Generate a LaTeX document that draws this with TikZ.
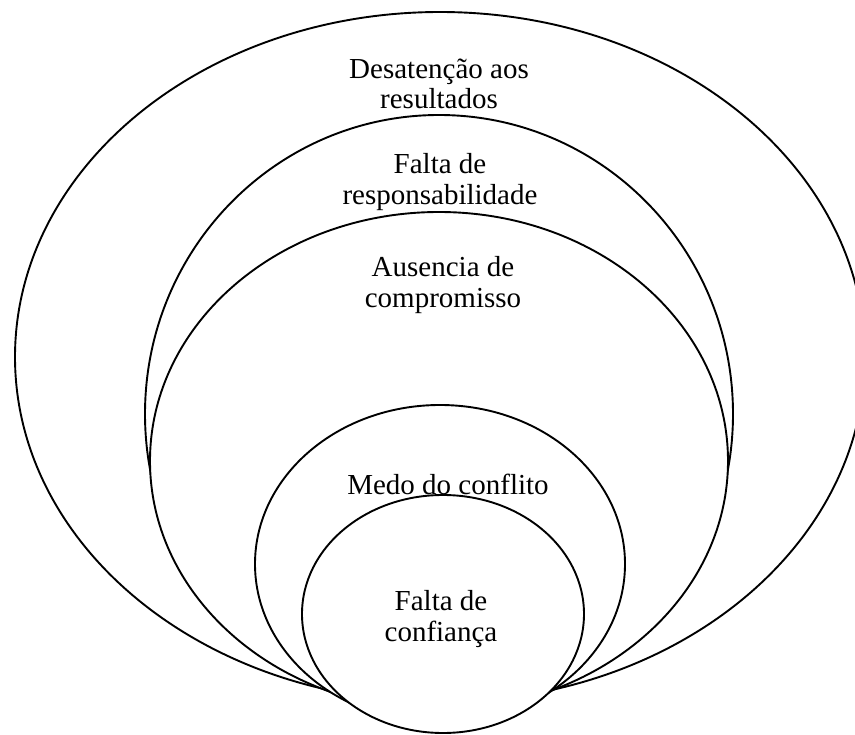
\documentclass[tikz,border=0pt]{standalone}
\usepackage{fontspec}
\setmainfont{Liberation Serif}
\begin{document}
\begin{tikzpicture}[x=1pt,y=-1pt,
  ring/.style={draw=black, fill=white, line width=1.9pt},
  lbl/.style={align=center, font=\fontsize{29}{30.5}\selectfont, inner sep=0pt}]
\useasboundingbox (0,0) rectangle (855,735);
\path[ring] (440,357) ellipse [x radius=425pt, y radius=345pt];
\path[ring] (439,414) ellipse [x radius=294pt, y radius=299pt];
\path[ring] (439,461) ellipse [x radius=289pt, y radius=249pt];
\path[ring] (440,564) ellipse [x radius=185pt, y radius=159pt];
\path[ring] (443,614) ellipse [x radius=141pt, y radius=119pt];
\node[lbl] (l1) at (439,84) {Desatenção aos\\resultados};
\node[lbl] (l2) at (440,182) {Falta de\\responsabilidade};
\node[lbl] (l3) at (443,285) {Ausencia de\\compromisso};
\node[lbl] (l4) at (448,484) {Medo do conflito};
\node[lbl] (l5) at (441,619) {Falta de\\confiança};
\end{tikzpicture}
\end{document}
